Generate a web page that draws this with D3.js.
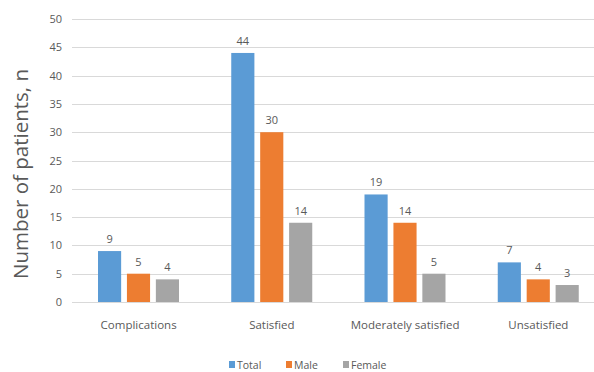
<!DOCTYPE html>
<html><head><meta charset="utf-8">
<script src="https://cdn.jsdelivr.net/npm/d3@7"></script>
<style>body{margin:0;background:#fff;overflow:hidden}svg{display:block}</style>
</head><body><svg id="c" width="594" height="372"></svg>
<script>
const categories = ["Complications", "Satisfied", "Moderately satisfied", "Unsatisfied"];
const seriesNames = ["Total", "Male", "Female"];
const total = [9, 44, 19, 7];
const male = [5, 30, 14, 4];
const female = [4, 14, 5, 3];
const yTicks = [0, 5, 10, 15, 20, 25, 30, 35, 40, 45, 50];
const colors = ["#5B9BD5", "#ED7D31", "#A5A5A5"];
const series = [total, male, female];

const svg = d3.select("#c");
const font = "'Open Sans', 'Noto Sans', sans-serif";
const txt = "#595959";

const x = d3.scaleBand().domain(categories).range([72, 605]).paddingInner(0).paddingOuter(0);
const y = d3.scaleLinear().domain([0, 50]).range([302, 19]);
const xs = d3.scaleBand().domain(seriesNames).range([26, 133 - 26]).paddingInner(0.2);

// gridlines
svg.append("g").selectAll("line").data(yTicks).join("line")
  .attr("x1", 72).attr("x2", 605)
  .attr("y1", d => Math.round(y(d)) + 0.5).attr("y2", d => Math.round(y(d)) + 0.5)
  .attr("stroke", "#D9D9D9").attr("stroke-width", 1);

// y tick labels
const yAxis = d3.axisLeft(y).tickValues(yTicks).tickSize(0).tickPadding(10);
const ga = svg.append("g").attr("transform", "translate(72,0)").call(yAxis);
ga.select(".domain").remove();
ga.selectAll("text").attr("fill", txt).style("font-family", font).style("font-size", "11px");

// bars
const groups = svg.append("g").selectAll("g").data(categories).join("g")
  .attr("transform", d => `translate(${x(d)},0)`);
series.forEach((s, si) => {
  groups.append("rect")
    .attr("x", xs(seriesNames[si]))
    .attr("width", xs.bandwidth())
    .attr("y", (d, i) => y(s[i]))
    .attr("height", (d, i) => y(0) - y(s[i]))
    .attr("fill", colors[si]);
  groups.append("text")
    .attr("x", xs(seriesNames[si]) + xs.bandwidth() / 2)
    .attr("y", (d, i) => y(s[i]) - 8)
    .attr("text-anchor", "middle")
    .attr("fill", txt).style("font-family", font).style("font-size", "11px")
    .text((d, i) => s[i]);
});

// category labels
svg.append("g").selectAll("text").data(categories).join("text")
  .attr("x", d => x(d) + x.bandwidth() / 2)
  .attr("y", 329)
  .attr("text-anchor", "middle")
  .attr("fill", txt).style("font-family", font).style("font-size", "11.5px")
  .text(d => d);

// y title
svg.append("text")
  .attr("transform", "translate(28,174) rotate(-90)")
  .attr("text-anchor", "middle")
  .attr("fill", txt).style("font-family", font).style("font-size", "20.5px")
  .text("Number of patients, n");

// legend
const legendX = [229, 286, 343];
const lg = svg.append("g").selectAll("g").data(seriesNames).join("g")
  .attr("transform", (d, i) => `translate(${legendX[i]},361)`);
lg.append("rect").attr("width", 6).attr("height", 7).attr("fill", (d, i) => colors[i]);
lg.append("text").attr("x", 8).attr("y", 7.5)
  .attr("fill", txt).style("font-family", font).style("font-size", "10.5px")
  .text(d => d);
</script></body></html>
